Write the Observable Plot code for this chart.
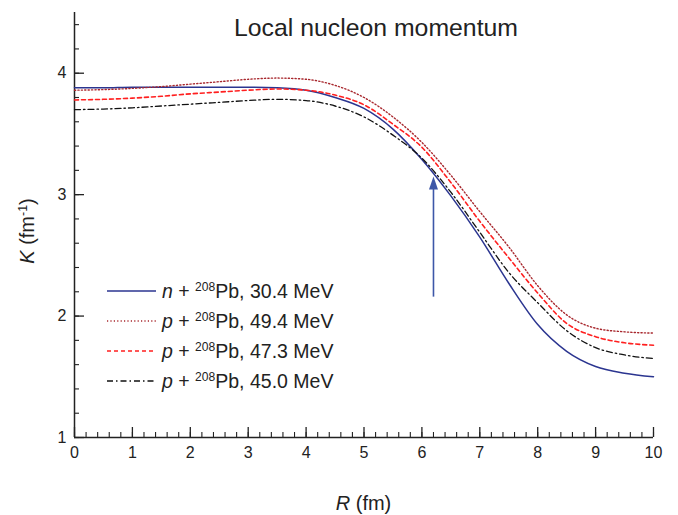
<!DOCTYPE html>
<html><head><meta charset="utf-8">
<script src="https://cdn.jsdelivr.net/npm/d3@7"></script>
<script src="https://cdn.jsdelivr.net/npm/@observablehq/plot@0.6"></script>
<style>
body{margin:0;background:#fff;font-family:"Liberation Sans",Arial,sans-serif;color:#222;}
#wrap{position:relative;width:678px;height:515px;overflow:hidden;}
#wrap > svg{position:absolute;left:0;top:0;}
.ov{position:absolute;white-space:nowrap;line-height:1;}
.leg{position:absolute;left:107px;top:276px;}
.row{display:flex;align-items:center;height:30px;font-size:19.5px;}
.row svg{position:static;margin-right:6px;}
sup{font-size:0.62em;vertical-align:0.55em;line-height:0;}
#xlab{left:0;width:727px;text-align:center;top:493px;font-size:20px;}
#ylab{left:-23px;top:221px;width:100px;text-align:center;font-size:20px;transform:rotate(-90deg);}
</style></head><body><div id="wrap"></div>
<script>
// radius R (fm)
const R = [0,0.5,1,1.5,2,2.5,3,3.5,4,4.5,5,5.5,6,6.5,7,7.5,8,8.5,9,9.5,10];
// local nucleon momentum K (fm^-1)
const kN304 = [3.88,3.88,3.885,3.885,3.885,3.885,3.885,3.88,3.86,3.80,3.71,3.54,3.29,2.99,2.65,2.27,1.93,1.71,1.585,1.53,1.50];
const kP494 = [3.86,3.865,3.875,3.89,3.91,3.93,3.95,3.96,3.95,3.90,3.80,3.64,3.43,3.16,2.86,2.57,2.25,2.01,1.90,1.87,1.86];
const kP473 = [3.78,3.785,3.795,3.81,3.83,3.845,3.86,3.87,3.86,3.82,3.74,3.58,3.39,3.10,2.78,2.48,2.19,1.94,1.83,1.78,1.76];
const kP450 = [3.70,3.705,3.715,3.73,3.745,3.76,3.775,3.785,3.775,3.73,3.64,3.49,3.30,3.02,2.69,2.36,2.11,1.88,1.74,1.68,1.65];
const projectiles = ["n","p","p","p"];
const energies = ["30.4 MeV","49.4 MeV","47.3 MeV","45.0 MeV"];
const colors = ["#2b3590","#a8282e","#ff1f1f","#111111"];
const dashes = ["none","1.2,2.2","4,3","6,3,1.5,3"];
const widths = [1.5,1.4,1.6,1.3];
const xTicks = [0,1,2,3,4,5,6,7,8,9,10];
const yTicks = [1,2,3,4];
const xMinor = d3.range(0, 10.0001, 0.2);
const yMinor = d3.range(1, 4.5001, 0.2);
const arrowX = [6.2];
const arrowY = [2.16, 3.15];
const titleText = "Local nucleon momentum";

const seriesK = [kN304, kP494, kP473, kP450];
const lineMarks = seriesK.map((ks, s) =>
  Plot.line(R.map((r, i) => ({R: r, K: ks[i]})), {
    x: "R", y: "K", curve: "monotone-x",
    stroke: colors[s], strokeWidth: widths[s], strokeDasharray: dashes[s]
  })
);
const headSymbol = {draw(ctx) { ctx.moveTo(0, 0); ctx.lineTo(4.5, 13); ctx.lineTo(-4.5, 13); ctx.closePath(); }};
const arrowColor = "#3d57a8";
const intFmt = d3.format("d");

const plot = Plot.plot({
  width: 678, height: 515,
  marginLeft: 74, marginRight: 25, marginTop: 12, marginBottom: 78,
  x: {domain: [0, 10]},
  y: {domain: [1, 4.5]},
  style: {fontFamily: "Liberation Sans, Arial, sans-serif", fontSize: "16px", color: "#222", background: "white", overflow: "visible"},
  marks: [
    Plot.axisX({ticks: xTicks, tickSize: 0, tickPadding: 9, fontSize: 16, label: null, tickFormat: intFmt}),
    Plot.axisX({ticks: xTicks, tickSize: -10, tickFormat: () => "", label: null, strokeWidth: 1.3}),
    Plot.axisX({ticks: xMinor, tickSize: -5, tickFormat: () => "", label: null, strokeWidth: 1.1}),
    Plot.axisY({ticks: yTicks, tickSize: 0, tickPadding: 8, fontSize: 16, label: null, tickFormat: intFmt}),
    Plot.axisY({ticks: yTicks, tickSize: -10, tickFormat: () => "", label: null, strokeWidth: 1.3}),
    Plot.axisY({ticks: yMinor, tickSize: -5, tickFormat: () => "", label: null, strokeWidth: 1.1}),
    Plot.ruleX([0], {stroke: "#222", strokeWidth: 1.5}),
    Plot.ruleY([1], {stroke: "#222", strokeWidth: 1.5}),
    ...lineMarks,
    Plot.link([0], {x1: () => arrowX[0], x2: () => arrowX[0], y1: () => arrowY[0], y2: () => arrowY[1] - 0.08, stroke: arrowColor, strokeWidth: 1.6}),
    Plot.dot([0], {x: () => arrowX[0], y: () => arrowY[1], symbol: headSymbol, fill: arrowColor, stroke: "none"}),
    Plot.text([titleText], {text: d => d, frameAnchor: "top", lineAnchor: "top", dx: 12, dy: 6, fontSize: 24.8, fill: "#222"})
  ]
});

const wrap = document.getElementById("wrap");
wrap.appendChild(plot);

// legend
const leg = document.createElement("div");
leg.className = "leg";
seriesK.forEach((_, s) => {
  const row = document.createElement("div");
  row.className = "row";
  row.innerHTML = `<svg width="49" height="4"><line x1="0" x2="49" y1="2" y2="2" stroke="${colors[s]}" stroke-width="${widths[s]}" stroke-dasharray="${dashes[s]}"/></svg>` +
    `<span><i>${projectiles[s]}</i> + <sup>208</sup>Pb, ${energies[s]}</span>`;
  leg.appendChild(row);
});
wrap.appendChild(leg);

const xl = document.createElement("div");
xl.className = "ov"; xl.id = "xlab";
xl.innerHTML = "<i>R</i> (fm)";
wrap.appendChild(xl);
const yl = document.createElement("div");
yl.className = "ov"; yl.id = "ylab";
yl.innerHTML = "<i>K</i> (fm<sup>-1</sup>)";
wrap.appendChild(yl);
</script></body></html>
